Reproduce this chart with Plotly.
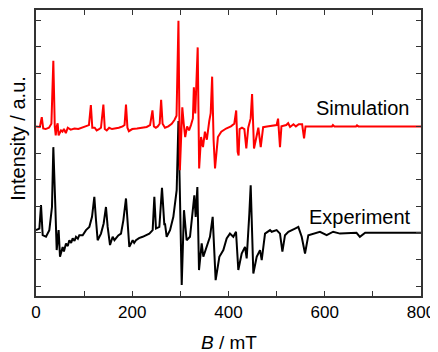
import plotly.graph_objects as go

# Simulation spectrum (red): magnetic field B (mT) and offset intensity (a.u.)
sim_B = [0, 8, 12, 15, 20, 27, 32, 36, 39, 41, 43, 45, 47, 52, 55, 58, 62, 66, 72, 80, 88, 95,
         103, 110, 114, 117, 122, 126, 131, 135, 140, 143, 147, 152, 158, 165, 172, 180, 184,
         187, 190, 193, 200, 210, 220, 230, 237, 242, 245, 249, 253, 257, 260, 263, 268, 275,
         282, 288, 292, 296, 299, 304, 307, 310, 314, 318, 322, 326, 328, 331, 336, 339, 343,
         347, 351, 355, 360, 363, 366, 369, 372, 378, 385, 395, 405, 412, 416, 419, 421, 423,
         428, 433, 437, 441, 446, 449, 453, 458, 462, 467, 472, 480, 490, 500, 503, 507, 510,
         515, 520, 524, 528, 535, 540, 546, 553, 557, 560, 570, 615, 617, 620, 665, 667, 670, 800]
sim_I = [6.0, 5.98, 6.35, 5.92, 5.9, 5.95, 6.1, 8.47, 6.0, 5.66, 6.0, 6.12, 5.66, 5.85, 5.8,
         5.9, 5.75, 5.95, 5.88, 5.92, 5.9, 5.95, 6.0, 6.05, 6.8, 5.95, 5.95, 5.85, 5.9, 5.95,
         6.82, 5.9, 5.85, 5.95, 5.9, 5.92, 5.95, 6.0, 6.05, 6.82, 5.95, 5.82, 5.9, 5.92, 5.95,
         5.98, 6.05, 6.6, 6.0, 5.95, 6.0, 6.1, 7.0, 6.1, 5.95, 6.0, 6.1, 6.25, 6.4, 9.97, 4.35,
         6.72, 6.1, 5.6, 6.0, 5.85, 6.05, 6.3, 7.47, 6.49, 8.97, 4.42, 5.6, 5.22, 5.8, 5.5, 6.2,
         6.5, 7.87, 5.5, 4.42, 5.6, 5.8, 5.92, 6.0, 6.1, 6.6, 5.04, 4.91, 5.9, 5.95, 5.9, 5.17,
         5.95, 6.3, 7.22, 5.17, 5.6, 5.95, 5.22, 5.97, 6.0, 6.02, 6.05, 6.29, 5.22, 6.0, 6.02,
         6.05, 6.12, 5.98, 6.08, 6.0, 6.08, 6.08, 5.55, 6.0, 6.0, 6.0, 6.05, 6.0, 6.0, 6.04, 6.0, 6.0]

# Experimental spectrum (black)
exp_B = [0, 7, 10.4, 13.9, 20.8, 27.7, 33.2, 36, 40.2, 43, 47, 49.9, 55.4, 58, 62.3, 66, 69.3,
         73, 76.2, 80, 83.1, 87, 90, 97, 103.9, 110.8, 116.4, 121.2, 124.7, 128.1, 135, 140.6,
         145.4, 148.9, 153.8, 159.3, 163, 166.2, 171, 176.6, 181.5, 187, 190.5, 193.9, 200.9,
         204, 207.8, 214, 221.6, 228, 235.5, 242.4, 245.9, 249.3, 256.3, 261.8, 266.7, 268,
         271.5, 278.5, 285.4, 292.3, 296, 302.8, 307.5, 313, 320, 324.8, 329, 331.8, 335.3,
         338.7, 344.3, 347.7, 354.6, 361.5, 367.1, 373.3, 381, 389.3, 396.2, 403, 410, 415.6,
         420.4, 427.4, 434.3, 437.8, 443.3, 446.1, 451.6, 458.6, 465.5, 469, 475.9, 486.3,
         489.7, 500, 507, 512, 517.4, 524.4, 538.2, 545.1, 552.1, 559, 565.9, 576.3, 590, 604,
         617.5, 631.7, 666, 673, 684, 800]
exp_I = [2.1, 2.16, 3.04, 1.91, 1.85, 2.1, 2.97, 5.22, 2.97, 1.35, 2.1, 1.1, 1.47, 1.3, 1.6,
         1.5, 1.72, 1.62, 1.79, 1.7, 1.85, 1.78, 1.91, 1.91, 2.1, 2.22, 2.6, 3.35, 2.47, 1.72,
         1.97, 2.35, 2.97, 2.22, 1.54, 1.85, 1.72, 1.79, 1.9, 1.97, 2.47, 3.29, 2.35, 1.47, 1.72,
         1.62, 1.72, 1.8, 1.85, 1.92, 1.97, 2.1, 3.35, 2.16, 2.22, 3.69, 2.29, 2.35, 1.85, 2.1,
         2.6, 3.6, 6.2, 0.04, 2.85, 1.72, 1.85, 2.6, 3.41, 2.6, 3.72, 0.6, 1.6, 1.1, 1.47, 1.85,
         2.6, 0.22, 1.1, 1.35, 1.79, 1.97, 1.85, 2.04, 0.6, 1.22, 1.47, 1.04, 2.72, 3.79, 0.47,
         1.1, 1.35, 0.97, 1.97, 2.1, 2.04, 2.1, 1.97, 1.29, 1.91, 2.04, 2.16, 2.22, 1.85, 1.22,
         1.91, 1.97, 2.04, 1.91, 2.04, 1.97, 2.0, 1.85, 2.0, 2.0]

x_ticks = [0, 100, 200, 300, 400, 500, 600, 700, 800]
x_tick_labels = ["0", "", "200", "", "400", "", "600", "", "800"]
y_ticks = [0, 1, 2, 3, 4, 5, 6, 7, 8, 9, 10]

FONT = "Liberation Sans, Arial, sans-serif"

fig = go.Figure()
fig.add_trace(go.Scatter(x=exp_B, y=exp_I, mode="lines",
                         line=dict(color="black", width=2), showlegend=False))
fig.add_trace(go.Scatter(x=sim_B, y=sim_I, mode="lines",
                         line=dict(color="#ff0000", width=2), showlegend=False))

axis_common = dict(showline=True, linecolor="#333333", linewidth=1.5, mirror="allticks",
                   ticks="inside", ticklen=5, tickwidth=1.2, tickcolor="#333333",
                   showgrid=False, zeroline=False, automargin=False)

fig.update_xaxes(range=[0, 800], tickvals=x_ticks, ticktext=x_tick_labels,
                 tickfont=dict(family=FONT, size=17, color="black"), **axis_common)
fig.update_yaxes(range=[-0.376, 10.376], tickvals=y_ticks, showticklabels=False, **axis_common)

fig.add_annotation(x=779, y=6.68, xref="x", yref="y", text="Simulation", showarrow=False,
                   xanchor="right", yanchor="middle",
                   font=dict(family=FONT, size=20, color="black"))
fig.add_annotation(x=783, y=2.6, xref="x", yref="y", text="Experiment", showarrow=False,
                   xanchor="right", yanchor="middle",
                   font=dict(family=FONT, size=20, color="black"))
fig.add_annotation(x=0.5, y=0, xref="paper", yref="paper", text="<i>B</i> / mT",
                   showarrow=False, xanchor="center", yanchor="top", yshift=-34,
                   font=dict(family=FONT, size=19, color="black"))
fig.add_annotation(x=0, y=0.55, xref="paper", yref="paper", text="Intensity / a.u.",
                   showarrow=False, xanchor="right", yanchor="middle", xshift=-6,
                   borderpad=0, textangle=-90, font=dict(family=FONT, size=20, color="black"))

fig.update_layout(width=430, height=344, margin=dict(l=28, r=17, t=2, b=56),
                  paper_bgcolor="white", plot_bgcolor="white")

fig.write_html("out.html")
